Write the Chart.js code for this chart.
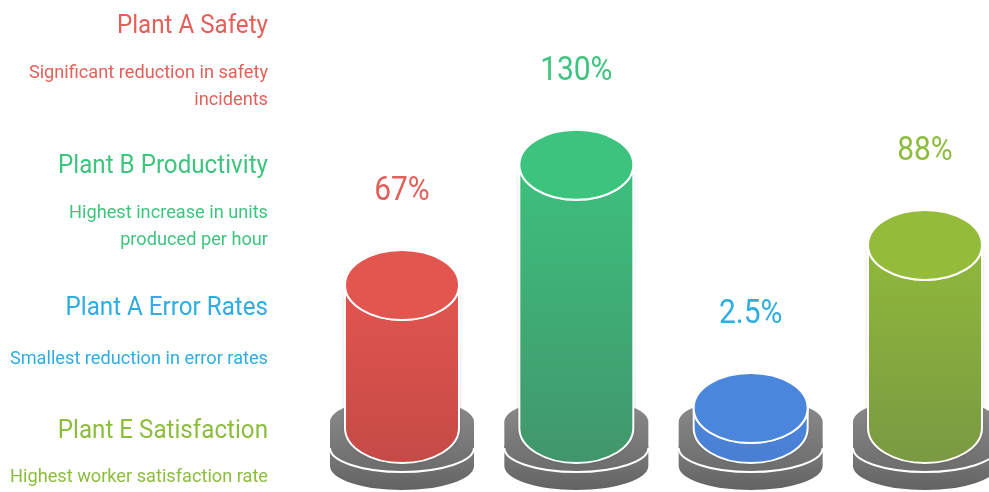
<!DOCTYPE html>
<html>
<head>
<meta charset="utf-8">
<script src="https://cdn.jsdelivr.net/npm/chart.js@4/dist/chart.umd.min.js"></script>
<style>
  html, body { margin: 0; padding: 0; background: #ffffff; }
  #wrap { position: relative; width: 989px; height: 492px; }
</style>
</head>
<body>
<div id="wrap"><canvas id="c" width="989" height="492"></canvas></div>
<script>
// ---- data ----
const categories = ['Plant A Safety', 'Plant B Productivity', 'Plant A Error Rates', 'Plant E Satisfaction'];
const values = [67, 130, 2.5, 88];
const valueLabels = ['67%', '130%', '2.5%', '88%'];
const descriptions = [
  ['Significant reduction in safety', 'incidents'],
  ['Highest increase in units', 'produced per hour'],
  ['Smallest reduction in error rates'],
  ['Highest worker satisfaction rate']
];

// ---- styles ----
const textColors = ['#e35f5a', '#3ec47f', '#2fade0', '#8dbd3f'];
const bodyTop = ['#e2554f', '#3dc07e', '#4a86dc', '#90b93a'];
const bodyBottom = ['#c54a46', '#41966b', '#4a7fd3', '#7a9942'];
const faceColors = ['#e2564f', '#3cc47f', '#4b86dd', '#94bb3a'];
const titleBaselines = [33, 173, 315, 438];
const descBaselines = [78, 218, 364, 482];
const FONT = 'Roboto, "Liberation Sans", sans-serif';

function condensedText(ctx, text, x, y, sx) {
  ctx.save();
  ctx.translate(x, y);
  ctx.scale(sx, 1);
  ctx.fillText(text, 0, 0);
  ctx.restore();
}

const cylinderPlugin = {
  id: 'cylinders',
  afterDatasetsDraw(chart) {
    const ctx = chart.ctx;
    const meta = chart.getDatasetMeta(0);
    const ys = chart.scales.y;
    const yb = ys.getPixelForValue(ys.min);
    const RX = 57, RY = 35, BRX = 72, BRY = 24;
    meta.data.forEach((bar, i) => {
      const cx = bar.x, top = bar.y;
      ctx.save();
      // base discs
      const disc = (t, b, c1, c2) => {
        const g = ctx.createLinearGradient(0, t - BRY, 0, b + BRY);
        g.addColorStop(0, c1); g.addColorStop(1, c2);
        ctx.beginPath();
        ctx.moveTo(cx - BRX, t);
        ctx.lineTo(cx - BRX, b);
        ctx.ellipse(cx, b, BRX, BRY, 0, Math.PI, 0, true);
        ctx.lineTo(cx + BRX, t);
        ctx.ellipse(cx, t, BRX, BRY, 0, 0, Math.PI, true);
        ctx.closePath();
        ctx.fillStyle = g;
        ctx.fill();
      };
      disc(yb + 20, yb + 38, '#8a8a8a', '#626262');
      disc(yb - 6, yb + 20, '#8c8c8c', '#6c6c6c');
      ctx.beginPath();
      ctx.ellipse(cx, yb + 20, BRX, BRY, 0, 0, Math.PI, false);
      ctx.strokeStyle = '#ffffff';
      ctx.lineWidth = 2;
      ctx.stroke();
      // body
      const g = ctx.createLinearGradient(0, top, 0, yb + RY);
      g.addColorStop(0, bodyTop[i]); g.addColorStop(1, bodyBottom[i]);
      ctx.beginPath();
      ctx.moveTo(cx - RX, top);
      ctx.lineTo(cx - RX, yb);
      ctx.ellipse(cx, yb, RX, RY, 0, Math.PI, 0, true);
      ctx.lineTo(cx + RX, top);
      ctx.ellipse(cx, top, RX, RY, 0, 0, Math.PI, false);
      ctx.closePath();
      ctx.shadowColor = 'rgba(0,0,0,0.18)';
      ctx.shadowBlur = 4;
      ctx.fillStyle = g;
      ctx.fill();
      ctx.shadowBlur = 0;
      ctx.strokeStyle = '#ffffff';
      ctx.lineWidth = 2;
      ctx.stroke();
      // top face
      ctx.beginPath();
      ctx.ellipse(cx, top, RX, RY, 0, 0, Math.PI * 2);
      ctx.fillStyle = faceColors[i];
      ctx.fill();
      ctx.stroke();
      // value label
      ctx.fillStyle = textColors[i];
      ctx.font = '34px ' + FONT;
      ctx.textAlign = 'center';
      ctx.textBaseline = 'alphabetic';
      condensedText(ctx, valueLabels[i], cx, top - RY - 50, 0.88);
      ctx.restore();
    });
  },
  afterDraw(chart) {
    const ctx = chart.ctx;
    ctx.save();
    ctx.textAlign = 'right';
    ctx.textBaseline = 'alphabetic';
    categories.forEach((c, i) => {
      ctx.fillStyle = textColors[i];
      ctx.font = '26px ' + FONT;
      condensedText(ctx, c, 268, titleBaselines[i], 0.93);
      ctx.font = '18px ' + FONT;
      descriptions[i].forEach((line, j) => {
        condensedText(ctx, line, 268, descBaselines[i] + j * 27, 1.01);
      });
    });
    ctx.restore();
  }
};

new Chart(document.getElementById('c'), {
  type: 'bar',
  data: {
    labels: categories,
    datasets: [{ data: values, backgroundColor: 'rgba(0,0,0,0)', borderWidth: 0 }]
  },
  options: {
    responsive: false,
    animation: false,
    layout: { padding: { left: 402, right: 64, top: 60, bottom: 64 } },
    plugins: { legend: { display: false }, tooltip: { enabled: false } },
    scales: {
      x: { display: false, offset: false },
      y: { display: false, min: -8, max: 185 }
    }
  },
  plugins: [cylinderPlugin]
});
</script>
</body>
</html>
